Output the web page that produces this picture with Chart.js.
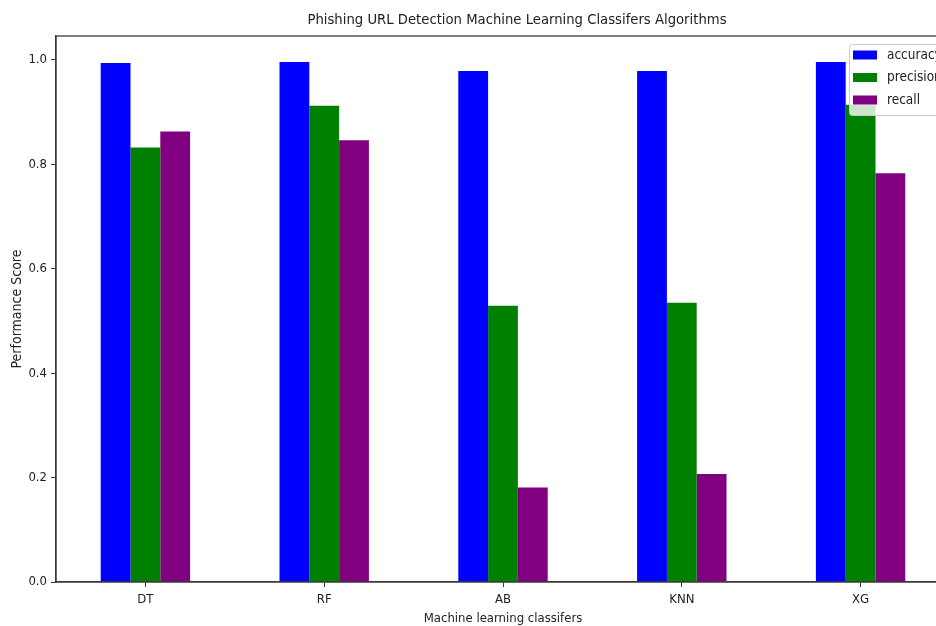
<!DOCTYPE html>
<html>
<head>
<meta charset="utf-8">
<script src="https://cdn.jsdelivr.net/npm/chart.js@4/dist/chart.umd.min.js"></script>
<style>
html,body{margin:0;padding:0;background:#fff;overflow:hidden;width:936px;height:626px;}
canvas{display:block;}
</style>
</head>
<body>
<canvas id="c" width="1006" height="626"></canvas>
<script>
const categories = ['DT', 'RF', 'AB', 'KNN', 'XG'];
const accuracy  = [0.994, 0.996, 0.979, 0.979, 0.996];
const precision = [0.832, 0.912, 0.529, 0.535, 0.914];
const recall    = [0.863, 0.846, 0.181, 0.207, 0.783];
const yTicks = [0.0, 0.2, 0.4, 0.6, 0.8, 1.0];
const seriesNames = ['accuracy', 'precision', 'recall'];
const seriesColors = ['#0000ff', '#008000', '#800080'];

const FONT = "'DejaVu Sans Condensed', 'DejaVu Sans', sans-serif";
const AX = '#3a3a3a';

const titleShift = {
  id: 'titleShift',
  afterLayout(chart) {
    const t = chart.titleBlock;
    if (t) { t.left = 84; t.right = 950; }
  }
};

const framePlugin = {
  id: 'frame',
  afterDatasetsDraw(chart) {
    const a = chart.chartArea, ctx = chart.ctx;
    ctx.save();
    ctx.strokeStyle = AX;
    ctx.lineWidth = 1.3;
    ctx.strokeRect(a.left, a.top, a.right - a.left, a.bottom - a.top);
    ctx.restore();
  }
};

const legendPlugin = {
  id: 'boxLegend',
  afterDraw(chart) {
    const ctx = chart.ctx;
    const x0 = 849, y0 = 44, w = 120, h = 71;
    ctx.save();
    ctx.fillStyle = 'rgba(255,255,255,0.8)';
    ctx.strokeStyle = '#cccccc';
    ctx.lineWidth = 1;
    ctx.beginPath();
    ctx.roundRect(x0 + 0.5, y0 + 0.5, w, h, 3);
    ctx.fill();
    ctx.stroke();
    ctx.font = '13.5px ' + FONT;
    ctx.textBaseline = 'middle';
    ctx.textAlign = 'left';
    chart.data.datasets.forEach((ds, i) => {
      const cy = 55 + i * 22.5;
      ctx.fillStyle = ds.backgroundColor;
      ctx.fillRect(853, cy - 4.5, 24, 9);
      ctx.fillStyle = '#222';
      ctx.fillText(ds.label, 887, cy);
    });
    ctx.restore();
  }
};

new Chart(document.getElementById('c'), {
  type: 'bar',
  data: {
    labels: categories,
    datasets: [
      { label: seriesNames[0], data: accuracy,  backgroundColor: seriesColors[0] },
      { label: seriesNames[1], data: precision, backgroundColor: seriesColors[1] },
      { label: seriesNames[2], data: recall,    backgroundColor: seriesColors[2] }
    ]
  },
  options: {
    responsive: false,
    animation: false,
    devicePixelRatio: 1,
    layout: { padding: { left: 0, right: 56, top: 0, bottom: 0 } },
    datasets: { bar: { categoryPercentage: 0.5, barPercentage: 1.0, borderWidth: 0 } },
    plugins: {
      legend: { display: false },
      tooltip: { enabled: false },
      title: {
        display: true,
        text: 'Phishing URL Detection Machine Learning Classifers Algorithms',
        color: '#222',
        font: { family: FONT, size: 14.7, weight: 'normal', lineHeight: 1.2 },
        padding: { top: 11, bottom: 7.36 }
      }
    },
    scales: {
      x: {
        type: 'category',
        offset: true,
        grid: { display: true, drawOnChartArea: false, drawTicks: true, tickLength: 5, color: AX, offset: false },
        border: { display: true, color: AX, width: 1.3 },
        ticks: { color: '#222', font: { family: FONT, size: 13 }, padding: 5, maxRotation: 0 },
        title: { display: true, text: 'Machine learning classifers', color: '#222',
                 font: { family: FONT, size: 13 }, padding: { top: 2, bottom: 0 } },
        afterFit(scale) { scale.height = 44; }
      },
      y: {
        min: 0,
        max: 1.0458,
        afterBuildTicks(scale) { scale.ticks = yTicks.map(v => ({ value: v })); },
        grid: { display: true, drawOnChartArea: false, drawTicks: true, tickLength: 5, color: AX },
        border: { display: true, color: AX, width: 1.3 },
        ticks: { color: '#222', font: { family: FONT, size: 13 }, padding: 4,
                 callback: v => Number(v).toFixed(1) },
        title: { display: true, text: 'Performance Score', color: '#222',
                 font: { family: FONT, size: 14 }, padding: { top: 9, bottom: 4 } },
        afterFit(scale) { scale.width = 56; }
      }
    }
  },
  plugins: [titleShift, framePlugin, legendPlugin]
});
</script>
</body>
</html>
